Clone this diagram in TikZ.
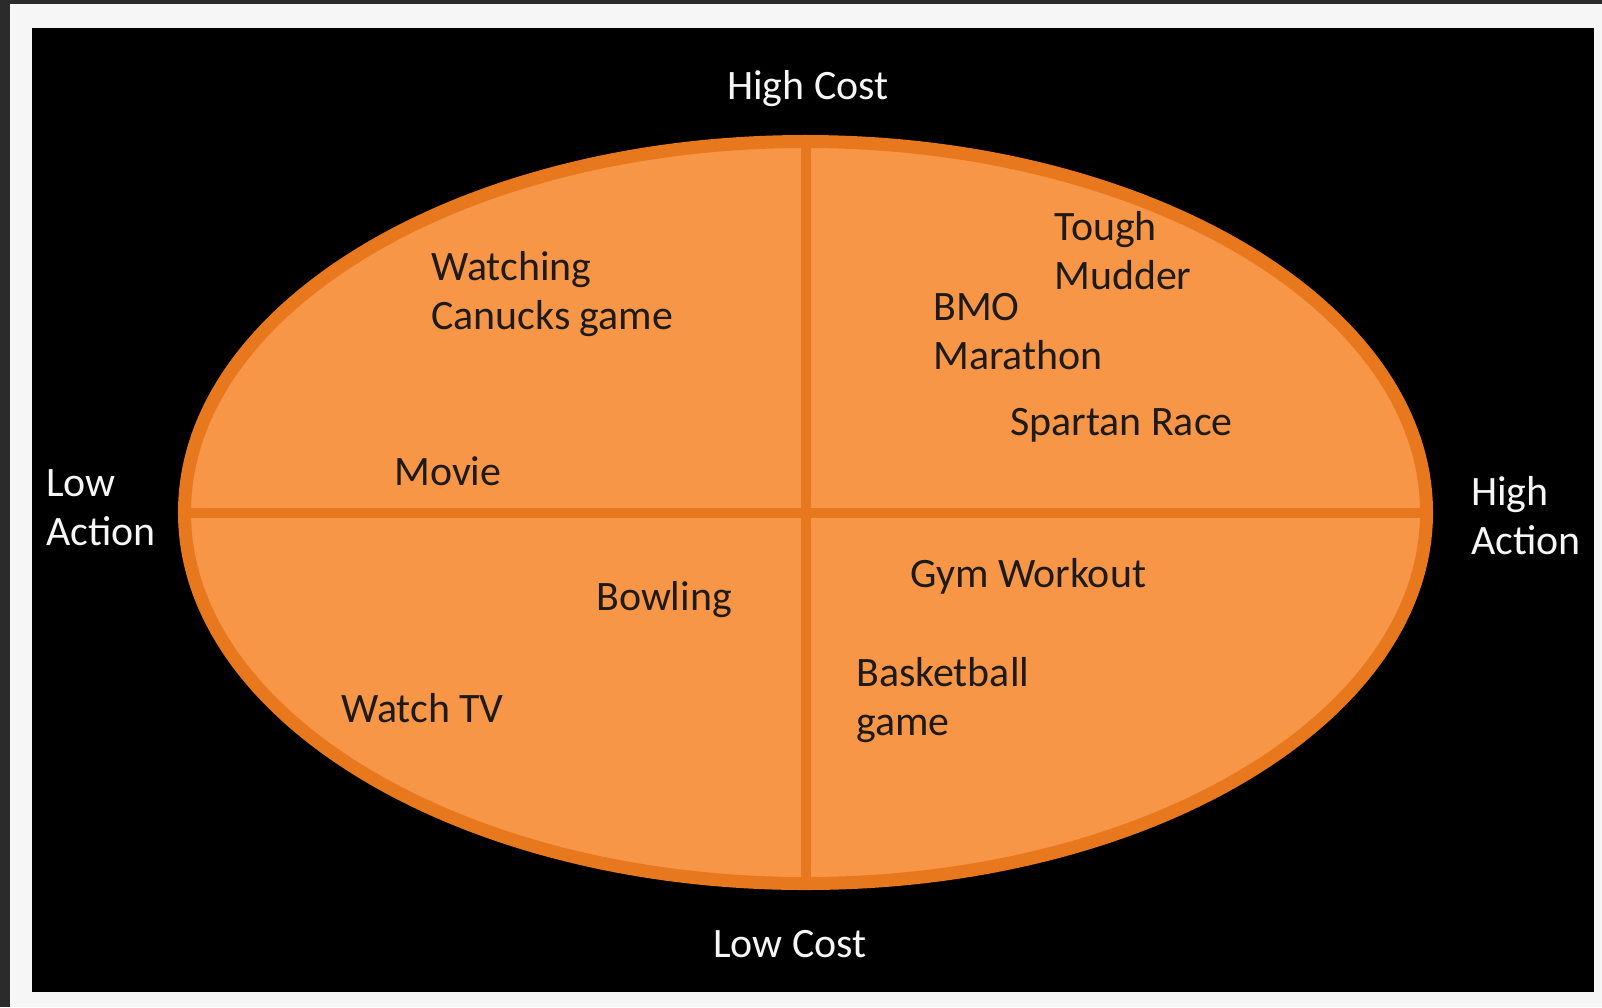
\documentclass[tikz,border=0pt]{standalone}
\usepackage{fontspec}
\setmainfont{Carlito}
\usetikzlibrary{shapes.geometric}

\definecolor{pumpkin}{HTML}{F79646}
\definecolor{rim}{HTML}{E8781E}
\definecolor{ink}{HTML}{1E1A17}
\definecolor{paper}{HTML}{F6F6F6}
\definecolor{frame}{HTML}{2B2B2B}

\begin{document}
\begin{tikzpicture}[x=0.25mm,y=-0.25mm,
  axis label/.style={anchor=north west,inner sep=0pt,align=left,text=paper,
    font=\fontsize{29.8}{35}\selectfont},
  activity/.style={anchor=north west,inner sep=0pt,align=left,text=ink,
    font=\fontsize{29.8}{35}\selectfont},
  divider/.style={draw=rim,line width=2.5mm}]

  % page, frame and black panel
  \useasboundingbox (0,0) rectangle (1602,1007);
  \fill[paper] (0,0) rectangle (1602,1007);
  \fill[frame] (0,0) rectangle (1602,4);
  \fill[frame] (0,0) rectangle (10,1007);
  \fill[black] (32,28) rectangle (1594,992);

  % the big oval split into four quadrants
  \node[ellipse,draw=rim,fill=pumpkin,line width=3.25mm,inner sep=0pt,
    minimum width=310.5mm,minimum height=185.5mm] (oval) at (805.5,512.5) {};
  \draw[divider] (oval.north) -- (oval.south);
  \draw[divider] (oval.west) -- (oval.east);

  % axis labels
  \node[axis label] (hc) at (727,70) {High Cost};
  \node[axis label] (lc) at (713,930) {Low Cost};
  \node[axis label] (la) at (46,469) {Low\\Action};
  \node[axis label] (ha) at (1471,476) {High\\Action};

  % activities
  \node[activity] (canucks) at (431,251) {Watching\\Canucks game};
  \node[activity] (movie) at (394,456) {Movie};
  \node[activity] (tough) at (1054,211) {Tough\\Mudder};
  \node[activity] (bmo) at (933,293) {BMO\\Marathon};
  \node[activity] (spartan) at (1010,408) {Spartan Race};
  \node[activity] (bowling) at (596,581) {Bowling};
  \node[activity] (tv) at (341,693) {Watch TV};
  \node[activity] (gym) at (910,558) {Gym Workout};
  \node[activity] (basket) at (856,657) {Basketball\\game};
\end{tikzpicture}
\end{document}
